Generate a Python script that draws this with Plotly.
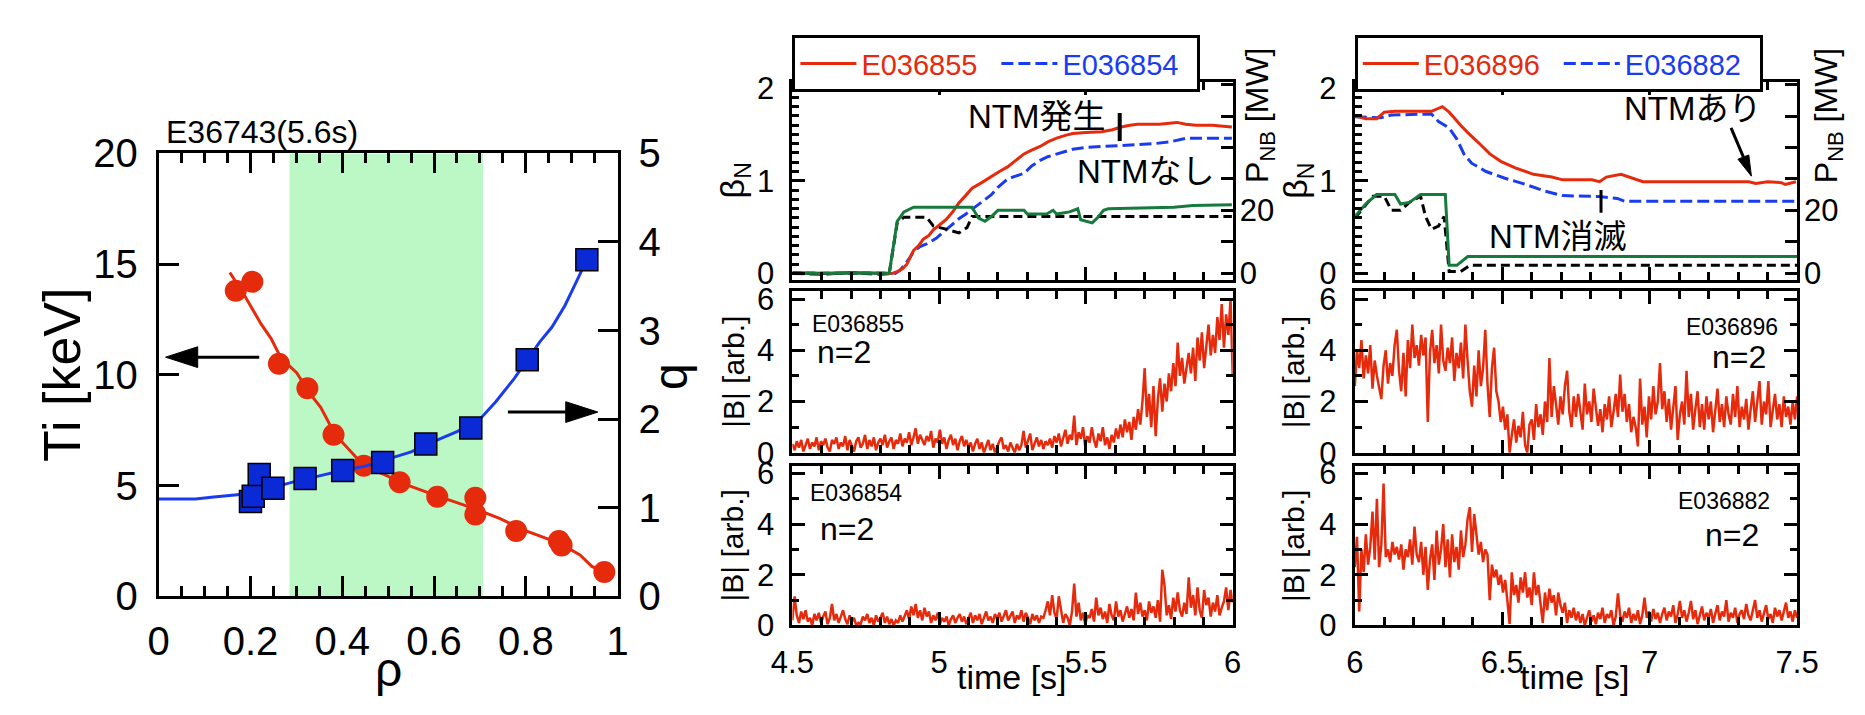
import numpy as np
import plotly.graph_objects as go

W, H = 1865, 715
FONT = "Liberation Sans, Arial, Noto Sans CJK JP, sans-serif"
RED = "#e62a0c"
BLUE = "#1a3cf0"
GREEN = "#167a3c"
SQ_BLUE = "#0a2ad6"
SHADE = "#bcf8c6"

# ---------------- profiles at 5.6 s ----------------
rho_ti = [0.168, 0.204, 0.262, 0.324, 0.381, 0.447, 0.525, 0.607, 0.690, 0.690, 0.779, 0.872, 0.878, 0.971]
ti = [13.8, 14.2, 10.5, 9.4, 7.3, 5.9, 5.15, 4.5, 4.45, 3.7, 2.95, 2.5, 2.3, 1.1]
rho_ti_fit = [0.155, 0.188, 0.223, 0.245, 0.266, 0.301, 0.327, 0.353, 0.384, 0.414, 0.449, 0.492,
              0.536, 0.605, 0.657, 0.691, 0.744, 0.796, 0.874, 0.918, 0.944, 0.970]
ti_fit = [14.62, 13.55, 12.3, 11.64, 10.78, 10.09, 9.22, 8.53, 7.32, 6.63, 5.85, 5.5,
          5.07, 4.55, 4.2, 3.94, 3.51, 2.99, 2.39, 1.87, 1.35, 1.09]
rho_q = [0.200, 0.206, 0.219, 0.249, 0.319, 0.401, 0.488, 0.582, 0.680, 0.803, 0.933]
q = [1.07, 1.13, 1.375, 1.22, 1.33, 1.42, 1.51, 1.72, 1.90, 2.67, 3.80]
rho_q_fit = [0.0, 0.08, 0.12, 0.17, 0.2, 0.25, 0.3, 0.35, 0.4, 0.45, 0.5, 0.55, 0.6, 0.65,
             0.7, 0.735, 0.775, 0.803, 0.83, 0.857, 0.885, 0.91, 0.933]
q_fit = [1.10, 1.10, 1.12, 1.14, 1.16, 1.23, 1.30, 1.36, 1.42, 1.47, 1.55, 1.63, 1.75, 1.86,
         2.0, 2.2, 2.46, 2.67, 2.87, 3.04, 3.28, 3.55, 3.80]
rho_window = [0.285, 0.707]

# ---------------- beta_N and NB power, shots E036855 / E036854 ----------------
t_b55 = [4.5, 4.6, 4.7, 4.8, 4.84, 4.857, 4.875, 4.89, 4.913, 4.93, 4.946, 4.965, 4.98, 5.0, 5.023,
         5.045, 5.067, 5.09, 5.112, 5.145, 5.178, 5.205, 5.233, 5.26, 5.289, 5.315, 5.344, 5.37,
         5.40, 5.43, 5.455, 5.5, 5.554, 5.59, 5.62, 5.65, 5.676, 5.75, 5.81, 5.84, 5.875, 5.93, 5.997]
b55 = [0.01, 0.0, 0.01, 0.0, 0.0, 0.02, 0.05, 0.10, 0.25, 0.30, 0.37, 0.41, 0.47, 0.52, 0.58,
       0.66, 0.76, 0.84, 0.92, 0.98, 1.05, 1.10, 1.15, 1.22, 1.29, 1.33, 1.37, 1.42,
       1.46, 1.49, 1.51, 1.52, 1.53, 1.55, 1.58, 1.60, 1.61, 1.61, 1.63, 1.61, 1.60, 1.60, 1.58]
t_b54 = [4.5, 4.6, 4.7, 4.8, 4.85, 4.865, 4.88, 4.9, 4.913, 4.935, 4.957, 4.99, 5.023, 5.045, 5.067,
         5.09, 5.12, 5.15, 5.178, 5.2, 5.233, 5.26, 5.289, 5.315, 5.344, 5.37, 5.40, 5.43, 5.455,
         5.5, 5.565, 5.62, 5.676, 5.73, 5.786, 5.842, 5.9, 5.997]
b54 = [0.0, -0.01, 0.01, -0.01, 0.0, 0.03, 0.085, 0.17, 0.24, 0.29, 0.32, 0.38, 0.47, 0.53, 0.59,
       0.64, 0.71, 0.78, 0.85, 0.93, 1.02, 1.05, 1.08, 1.16, 1.22, 1.26, 1.29, 1.32, 1.34,
       1.36, 1.37, 1.38, 1.39, 1.40, 1.42, 1.46, 1.46, 1.46]
t_p55 = [4.5, 4.83, 4.857, 4.88, 4.913, 5.112, 5.134, 5.156, 5.178, 5.2, 5.289, 5.3, 5.366, 5.388,
         5.4, 5.444, 5.472, 5.482, 5.521, 5.538, 5.56, 5.576, 5.8, 5.864, 5.997]
p55 = [0, 0, 16.5, 19.5, 21, 21, 17.5, 16.5, 18, 20, 20, 18.8, 18.8, 20,
       18.8, 19.5, 20.5, 17, 16, 17.5, 20, 20.5, 21, 21.5, 21.8]
t_p54 = [4.5, 4.83, 4.857, 4.88, 4.957, 4.98, 5.023, 5.067, 5.095, 5.112, 5.997]
p54 = [0, 0, 16, 17.8, 17.8, 15, 14, 12.8, 14.5, 18, 18]

# ---------------- beta_N and NB power, shots E036896 / E036882 ----------------
t_b96 = [6.0, 6.037, 6.074, 6.10, 6.136, 6.26, 6.297, 6.32, 6.359, 6.383, 6.42, 6.458, 6.495, 6.544,
         6.606, 6.668, 6.705, 6.804, 6.83, 6.853, 6.903, 6.94, 6.977, 7.336, 7.36, 7.40, 7.447,
         7.46, 7.496]
b96 = [1.70, 1.67, 1.67, 1.74, 1.75, 1.75, 1.80, 1.74, 1.60, 1.52, 1.41, 1.29, 1.21, 1.14,
       1.07, 1.04, 1.01, 1.01, 0.99, 1.04, 1.07, 1.03, 0.99, 0.99, 0.97, 0.99, 0.98,
       0.96, 0.99]
t_b82 = [6.0, 6.087, 6.124, 6.26, 6.284, 6.32, 6.346, 6.37, 6.396, 6.445, 6.507, 6.58, 6.643, 6.705,
         6.828, 6.89, 6.915, 7.496]
b82 = [1.69, 1.68, 1.71, 1.72, 1.64, 1.57, 1.45, 1.29, 1.19, 1.10, 1.03, 0.96, 0.89, 0.84,
       0.83, 0.81, 0.78, 0.78]
t_p96 = [6.0, 6.037, 6.074, 6.136, 6.155, 6.185, 6.223, 6.307, 6.32, 6.346, 6.383, 7.5]
p96 = [18, 22, 25, 25, 22, 22.5, 25, 25, 2.5, 2.5, 5.3, 5.3]
t_p82 = [6.0, 6.062, 6.1, 6.124, 6.155, 6.185, 6.223, 6.24, 6.26, 6.284, 6.303, 6.32, 6.359, 6.39, 7.5]
p82 = [17.5, 24.5, 24.5, 20, 20, 22.5, 24.5, 18, 14, 15, 18, 0.5, 0.5, 2.5, 2.5]

# ---------------- n=2 mode amplitude |B| ----------------
t_mid = np.linspace(4.5, 6.0, 201)
t_rgt = np.linspace(6.0, 7.5, 201)
B55 = [0.35, 0.1, 0.45, 0.2, 0.5, 0.05, 0.3, 0.55, 0.15, 0.4, 0.25, 0.6, 0.1, 0.45, 0.3, 0.55, 0.2, 0.05, 0.5, 0.35,
       0.6, 0.15, 0.4, 0.25, 0.65, 0.1, 0.5, 0.3, 0.05, 0.45, 0.6, 0.2, 0.35, 0.7, 0.15, 0.5, 0.25, 0.6, 0.1, 0.4,
       0.55, 0.3, 0.7, 0.2, 0.45, 0.6, 0.15, 0.5, 0.35, 0.75, 0.25, 0.55, 0.4, 0.8, 0.3, 0.6, 0.95, 0.35, 0.7, 0.5,
       0.3, 0.65, 0.45, 0.85, 0.2, 0.55, 0.4, 0.9, 0.35, 0.6, 0.15, 0.5, 0.7, 0.3, 0.55, 0.1, 0.45, 0.65, 0.25, 0.5,
       0.2, 0.4, 0.05, 0.35, 0.55, 0.15, 0.4, 0.0, 0.3, 0.5, 0.1, 0.35, 0.0, 0.25, 0.45, 0.6, 0.15, 0.3, 0.05, 0.4,
       0.2, 0.0, 0.35, 0.1, 0.3, 0.85, 0.2, 0.45, 0.75, 0.1, 0.4, 0.6, 0.25, 0.5, 0.15, 0.45, 0.3, 0.55, 0.2, 0.65,
       0.4, 0.75, 0.25, 0.6, 0.9, 0.35, 0.7, 0.5, 1.45, 0.3, 0.8, 0.55, 1.0, 0.25, 0.65, 0.4, 1.0, 0.5, 0.2, 0.75,
       0.45, 1.0, 0.3, 0.6, 0.15, 0.7, 0.4, 0.95, 0.55, 1.1, 0.6, 1.3, 0.8, 1.2, 0.5, 1.4, 0.9, 1.7, 1.1, 2.0,
       3.3, 1.4, 2.3, 1.0, 2.6, 0.65, 2.1, 2.9, 1.6, 2.7, 2.0, 3.1, 2.4, 3.5, 2.6, 4.3, 3.0, 3.7, 2.7, 3.3,
       3.9, 3.1, 4.1, 2.8, 4.5, 3.6, 4.7, 3.3, 4.2, 5.0, 3.8, 4.6, 3.9, 5.3, 4.4, 5.8, 4.1, 5.4, 4.6, 6.0,
       3.0]
B54 = [0.2, 1.15, 0.4, 0.1, 0.55, 0.25, 0.6, 0.15, 0.3, 0.0, 0.45, 0.2, 0.5, 0.1, 0.35, 0.55, 0.05, 0.3, 0.85, 0.2,
       0.45, 0.1, 0.35, 0.6, 0.25, 0.05, 0.4, 0.15, 0.3, 0.0, 0.1, 0.05, 0.35, 0.2, 0.45, 0.1, 0.3, 0.0, 0.4, 0.15,
       0.3, 0.5, 0.1, 0.35, 0.05, 0.25, 0.0, 0.2, 0.1, 0.4, 0.15, 0.35, 0.6, 0.25, 0.75, 0.4, 0.85, 0.3, 0.6, 0.2,
       0.7, 0.35, 0.55, 0.1, 0.4, 0.2, 0.5, 0.05, 0.3, 0.15, 0.35, 0.0, 0.25, 0.4, 0.1, 0.3, 0.45, 0.15, 0.35, 0.05,
       0.3, 0.5, 0.1, 0.4, 0.2, 0.45, 0.05, 0.3, 0.55, 0.2, 0.35, 0.1, 0.45, 0.25, 0.5, 0.15, 0.4, 0.6, 0.2, 0.35,
       0.55, 0.1, 0.4, 0.25, 0.6, 0.15, 0.5, 0.3, 0.05, 0.45, 0.2, 0.4, 0.1, 0.35, 0.3, 0.6, 0.95, 0.4, 1.2, 0.5,
       0.25, 1.15, 0.6, 0.1, 0.45, 0.3, 0.0, 0.55, 1.65, 0.35, 0.9, 0.2, 0.5, 0.05, 0.4, 0.3, 0.65, 0.15, 1.1, 0.4,
       0.7, 0.25, 0.55, 0.1, 0.85, 0.4, 0.2, 0.95, 0.35, 0.6, 0.15, 0.5, 0.75, 0.3, 0.65, 0.2, 1.3, 0.45, 0.9, 0.35,
       0.6, 0.2, 0.95, 0.5, 0.75, 0.3, 1.0, 0.15, 2.2, 1.6, 0.4, 0.8, 0.25, 1.1, 0.55, 1.3, 0.6, 0.35, 0.9, 0.45,
       1.9, 0.7, 1.2, 0.4, 1.5, 0.6, 0.3, 1.4, 0.8, 1.1, 0.35, 0.9, 0.55, 1.2, 0.4, 0.7, 0.95, 1.5, 0.6, 1.4,
       0.9]
B96 = [2.6, 4.0, 3.3, 4.4, 2.9, 3.8, 3.1, 4.2, 2.5, 3.6, 3.0, 2.5, 2.1, 3.4, 4.0, 2.7, 3.5, 3.0, 4.2, 4.8,
       3.2, 2.4, 3.9, 2.2, 4.4, 3.3, 5.0, 3.7, 4.2, 3.4, 4.6, 3.8, 4.5, 1.2, 3.9, 4.8, 3.5, 4.2, 3.1, 5.0,
       3.6, 3.2, 4.1, 3.5, 4.5, 2.8, 3.9, 3.3, 4.3, 2.9, 5.0, 3.6, 2.4, 1.8, 3.4, 2.2, 4.0, 2.6, 3.3, 4.8,
       2.7, 1.4, 3.3, 4.1, 2.4, 2.0, 1.2, 1.8, 0.9, 1.5, 0.0, 0.7, 1.3, 0.4, 1.05, 0.6, 1.6, 0.3, 0.0, 1.1,
       1.3, 0.5, 1.9, 1.0, 1.5, 0.7, 2.0, 1.2, 3.7, 1.4, 2.6, 1.9, 1.1, 2.2, 1.5, 2.6, 3.2, 1.6, 1.0, 2.2,
       1.4, 2.3, 1.7, 0.9, 2.7, 1.5, 2.0, 1.2, 2.5, 1.8, 1.05, 1.7, 0.8, 1.9, 1.3, 2.2, 1.0, 1.6, 2.3, 1.4,
       3.05, 1.6, 2.3, 1.2, 1.9, 0.8, 1.4, 1.0, 0.25, 2.9, 1.1, 1.8, 0.6, 2.2, 1.3, 2.6, 1.5, 2.0, 3.5, 1.7,
       2.4, 1.2, 2.1, 0.9, 1.8, 2.6, 0.5, 1.5, 2.0, 1.1, 3.2, 1.4, 2.3, 0.9, 1.7, 2.4, 1.0, 1.9, 0.9, 2.2,
       1.3, 2.0, 0.8, 1.6, 2.5, 1.2, 1.9, 1.0, 2.2, 1.5, 1.1, 2.3, 1.4, 2.6, 1.0, 1.8, 1.3, 2.1, 0.9, 1.7,
       2.4, 1.2, 1.9, 2.8, 1.1, 2.0, 1.5, 2.8, 1.0, 1.7, 2.3, 1.3, 1.9, 1.0, 2.2, 1.4, 1.8, 1.1, 2.0, 1.3,
       2.2]
B82 = [2.3, 3.5, 0.55, 3.0, 2.1, 3.6, 2.4, 3.1, 4.5, 2.6, 5.0, 2.3, 3.2, 5.6, 2.7, 3.0, 2.5, 3.3, 2.8, 3.1,
       2.6, 3.2, 2.2, 3.0, 2.7, 3.4, 2.4, 3.9, 2.8, 2.5, 3.3, 2.0, 3.1, 1.4, 2.6, 3.2, 1.8, 3.75, 2.4, 3.0,
       4.0, 2.3, 3.4, 1.9, 3.6, 2.5, 3.1, 2.2, 3.75, 2.7, 3.2, 4.2, 4.67, 2.9, 4.4, 3.5, 2.8, 3.3, 2.5, 3.0,
       2.8, 1.0, 2.4, 1.9, 2.2, 1.6, 2.0, 1.3, 1.8, 0.97, 0.06, 2.1, 1.2, 1.6, 0.9, 1.9, 1.3, 2.1, 1.1, 1.5,
       0.8, 2.1, 1.2, 1.6, 0.7, 0.1, 1.3, 0.6, 1.45, 0.9, 1.2, 0.4, 1.3, 0.8, 0.5, 0.9, 0.1, 0.6, 0.3, 0.7,
       0.2, 0.55, 0.1, 0.45, 0.0, 0.35, 0.6, 0.15, 0.4, 0.05, 0.5, 0.25, 0.7, 0.1, 0.45, 0.3, 0.6, 0.0, 0.35, 1.27,
       0.4, 0.15, 0.55, 0.3, 0.7, 0.1, 0.45, 0.2, 0.6, 0.05, 0.4, 1.1, 0.3, 0.55, 0.15, 0.65, 0.25, 0.5, 0.1, 0.45,
       0.7, 0.2, 0.55, 0.35, 0.8, 0.1, 0.45, 0.97, 0.3, 0.6, 0.15, 0.5, 0.97, 0.25, 0.6, 0.05, 0.4, 0.75, 0.2, 0.5,
       0.3, 0.65, 0.1, 0.45, 0.8, 0.2, 0.55, 0.35, 1.0, 0.15, 0.5, 0.3, 0.7, 0.1, 0.45, 0.6, 0.25, 0.85, 0.4, 0.2,
       0.55, 1.0, 0.3, 0.6, 0.15, 0.5, 0.8, 0.25, 0.45, 0.1, 0.7, 0.35, 0.6, 0.2, 0.5, 0.9, 0.3, 0.55, 0.15, 0.6,
       0.3]

# ---------------- layout helpers ----------------
def fx(p):
    return p / W


def fy(p):
    return 1 - p / H


LEFT_X = [fx(140), fx(610)]
LEFT_Y = [fy(612), fy(140)]
MID_X = [fx(789), fx(1240)]
RGT_X = [fx(1365), fx(1818)]
ROW1 = [fy(275), fy(64)]
ROW2 = [fy(459), fy(287)]
ROW3 = [fy(643), fy(473)]

BETA_RANGE = [-0.071, 2.065]
P_RANGE = [-2.2, 60.8]
B_RANGE = [0, 6.3]
TICK = 31


def minor_ticks(step, length):
    return dict(ticks="inside", dtick=step, tick0=0, ticklen=length, tickwidth=3, tickcolor="black")


def base_axis(size, **kw):
    d = dict(showline=True, linewidth=3, linecolor="black", ticks="inside", tickwidth=3,
             tickcolor="black", showgrid=False, zeroline=False,
             tickfont=dict(family=FONT, size=size, color="black"))
    d.update(kw)
    return d


def time_axis(domain, rng, anchor, labels):
    return base_axis(TICK, domain=domain, range=rng, anchor=anchor, mirror="ticks", dtick=0.5,
                     tick0=0, ticklen=13, minor=minor_ticks(0.1, 8),
                     showticklabels=labels, ticklabelstandoff=7)


def beta_axis(domain, anchor):
    return base_axis(TICK, domain=domain, range=BETA_RANGE, anchor=anchor, mirror=True,
                     tickvals=[0, 1, 2], ticklen=13, minor=minor_ticks(0.1, 7),
                     ticklabelstandoff=9)


def power_axis(over, anchor):
    return base_axis(TICK, overlaying=over, side="right", anchor=anchor, range=P_RANGE,
                     showline=False, tickvals=[0, 20], ticklen=12, minor=minor_ticks(10, 12),
                     ticklabelstandoff=6)


def amp_axis(domain, anchor):
    return base_axis(TICK, domain=domain, range=B_RANGE, anchor=anchor, mirror="ticks", dtick=2,
                     tick0=0, ticklen=13, minor=minor_ticks(1, 7), ticklabelstandoff=9)


def colored(text, color, size):
    return '<span style="color:%s;font-size:%dpx">%s</span>' % (color, size, text)


def with_sub(main, sub, size):
    return '%s<sub><span style="font-size:%dpx">%s</span></sub>' % (main, int(size * 0.7), sub)


fig = go.Figure()

# ---- left: Ti and q profiles ----
fig.add_trace(go.Scatter(x=rho_ti_fit, y=ti_fit, mode="lines", line=dict(color=RED, width=3),
                         xaxis="x", yaxis="y", showlegend=False))
fig.add_trace(go.Scatter(x=rho_ti, y=ti, mode="markers", marker=dict(color=RED, size=22),
                         xaxis="x", yaxis="y", showlegend=False))
fig.add_trace(go.Scatter(x=rho_q_fit, y=q_fit, mode="lines", line=dict(color=BLUE, width=3),
                         xaxis="x", yaxis="y2", showlegend=False))
fig.add_trace(go.Scatter(x=rho_q, y=q, mode="markers",
                         marker=dict(symbol="square", color=SQ_BLUE, size=22,
                                     line=dict(color="black", width=1.5)),
                         xaxis="x", yaxis="y2", showlegend=False))

LEG = 29

# ---- middle column ----
fig.add_trace(go.Scatter(x=t_p54, y=p54, mode="lines", line=dict(color="black", width=3, dash="9px,5px"),
                         xaxis="x2", yaxis="y4", showlegend=False))
fig.add_trace(go.Scatter(x=t_p55, y=p55, mode="lines", line=dict(color=GREEN, width=3),
                         xaxis="x2", yaxis="y4", showlegend=False))
fig.add_trace(go.Scatter(x=t_b54, y=b54, mode="lines", line=dict(color=BLUE, width=3, dash="12px,5px"),
                         xaxis="x2", yaxis="y3", legend="legend", name=colored("E036854", BLUE, LEG)))
fig.add_trace(go.Scatter(x=t_b55, y=b55, mode="lines", line=dict(color=RED, width=3),
                         xaxis="x2", yaxis="y3", legend="legend", legendrank=1,
                         name=colored("E036855", RED, LEG)))
fig.add_trace(go.Scatter(x=t_mid, y=B55, mode="lines", line=dict(color=RED, width=2.5),
                         xaxis="x3", yaxis="y5", showlegend=False))
fig.add_trace(go.Scatter(x=t_mid, y=B54, mode="lines", line=dict(color=RED, width=2.5),
                         xaxis="x4", yaxis="y6", showlegend=False))

# ---- right column ----
fig.add_trace(go.Scatter(x=t_p82, y=p82, mode="lines", line=dict(color="black", width=3, dash="9px,5px"),
                         xaxis="x5", yaxis="y8", showlegend=False))
fig.add_trace(go.Scatter(x=t_p96, y=p96, mode="lines", line=dict(color=GREEN, width=3),
                         xaxis="x5", yaxis="y8", showlegend=False))
fig.add_trace(go.Scatter(x=t_b82, y=b82, mode="lines", line=dict(color=BLUE, width=3, dash="12px,5px"),
                         xaxis="x5", yaxis="y7", legend="legend2", name=colored("E036882", BLUE, LEG)))
fig.add_trace(go.Scatter(x=t_b96, y=b96, mode="lines", line=dict(color=RED, width=3),
                         xaxis="x5", yaxis="y7", legend="legend2", legendrank=1,
                         name=colored("E036896", RED, LEG)))
fig.add_trace(go.Scatter(x=t_rgt, y=B96, mode="lines", line=dict(color=RED, width=2.5),
                         xaxis="x6", yaxis="y9", showlegend=False))
fig.add_trace(go.Scatter(x=t_rgt, y=B82, mode="lines", line=dict(color=RED, width=2.5),
                         xaxis="x7", yaxis="y10", showlegend=False))

legend_style = dict(orientation="h", xanchor="left", yanchor="top", bgcolor="white",
                    bordercolor="black", borderwidth=3, traceorder="normal", itemwidth=56,
                    font=dict(family=FONT, size=LEG), entrywidth=130, entrywidthmode="pixels")

fig.update_layout(
    width=W, height=H, margin=dict(l=0, r=0, t=0, b=0),
    paper_bgcolor="white", plot_bgcolor="rgba(0,0,0,0)",
    font=dict(family=FONT, color="black"),
    legend=dict(x=fx(789), y=fy(14), **legend_style),
    legend2=dict(x=fx(1365), y=fy(14), **legend_style),
    xaxis=base_axis(40, domain=LEFT_X, range=[0, 1], anchor="y", mirror="ticks", dtick=0.2,
                    ticklen=20, minor=minor_ticks(0.05, 10), ticklabelstandoff=8),
    yaxis=base_axis(40, domain=LEFT_Y, range=[0, 20], anchor="x", mirror=True, dtick=5,
                    ticklen=20, ticklabelstandoff=10),
    yaxis2=base_axis(40, overlaying="y", side="right", anchor="x", range=[0, 5], dtick=1,
                     ticklen=20, showline=False, ticklabelstandoff=20),
    xaxis2=time_axis(MID_X, [4.5, 6.0], "y3", False),
    yaxis3=beta_axis(ROW1, "x2"),
    yaxis4=power_axis("y3", "x2"),
    xaxis3=time_axis(MID_X, [4.5, 6.0], "y5", False),
    yaxis5=amp_axis(ROW2, "x3"),
    xaxis4=time_axis(MID_X, [4.5, 6.0], "y6", True),
    yaxis6=amp_axis(ROW3, "x4"),
    xaxis5=time_axis(RGT_X, [6.0, 7.5], "y7", False),
    yaxis7=beta_axis(ROW1, "x5"),
    yaxis8=power_axis("y7", "x5"),
    xaxis6=time_axis(RGT_X, [6.0, 7.5], "y9", False),
    yaxis9=amp_axis(ROW2, "x6"),
    xaxis7=time_axis(RGT_X, [6.0, 7.5], "y10", True),
    yaxis10=amp_axis(ROW3, "x7"),
)

# shaded rho window
fig.add_shape(type="rect", xref="x", yref="y", x0=rho_window[0], x1=rho_window[1], y0=0, y1=20,
              fillcolor=SHADE, line=dict(width=0), layer="below")

# arrows pointing to the relevant axes
fig.add_shape(type="line", xref="x", yref="y", x0=0.085, x1=0.219, y0=10.8, y1=10.8,
              line=dict(color="black", width=3))
fig.add_shape(type="path", xref="x", yref="y", path="M 0.015,10.8 L 0.085,11.27 L 0.085,10.33 Z",
              fillcolor="black", line=dict(color="black", width=1))
fig.add_shape(type="line", xref="x", yref="y2", x0=0.761, x1=0.887, y0=2.08, y1=2.08,
              line=dict(color="black", width=3))
fig.add_shape(type="path", xref="x", yref="y2", path="M 0.957,2.08 L 0.887,2.197 L 0.887,1.963 Z",
              fillcolor="black", line=dict(color="black", width=1))

# NTM onset / disappearance markers
fig.add_shape(type="line", xref="x2", yref="y3", x0=5.615, x1=5.615, y0=1.43, y1=1.73,
              line=dict(color="black", width=4))
fig.add_shape(type="line", xref="x5", yref="y7", x0=6.835, x1=6.835, y0=0.655, y1=0.90,
              line=dict(color="black", width=3))
fig.add_shape(type="line", xref="x5", yref="y7", x0=7.276, x1=7.318, y0=1.57, y1=1.256,
              line=dict(color="black", width=3))
fig.add_shape(type="path", xref="x5", yref="y7",
              path="M 7.345,1.05 L 7.3362,1.2783 L 7.2994,1.2331 Z",
              fillcolor="black", line=dict(color="black", width=1))


def note(text, x, y, size, xanchor="center", angle=0, color="black"):
    fig.add_annotation(text=text, x=fx(x), y=fy(y), xref="paper", yref="paper", showarrow=False,
                       xanchor=xanchor, yanchor="middle", textangle=angle,
                       font=dict(family=FONT, size=size, color=color))


def dnote(text, x, y, xref, yref, size):
    fig.add_annotation(text=text, x=x, y=y, xref=xref, yref=yref, showarrow=False,
                       xanchor="center", yanchor="middle", font=dict(family=FONT, size=size, color="black"))


# left panel labels
note("E36743(5.6s)", 145, 117, 32, xanchor="left")
note("Ti [keV]", 41, 376, 52, angle=-90)
note("ρ", 375, 690, 48)
note("q", 664, 378, 48, angle=-90)

# middle column labels
note(with_sub("β", "N", 34), 730, 169, 34, angle=-90)
note("|B| [arb.]", 728, 373, 30, angle=-90)
note("|B| [arb.]", 728, 558, 30, angle=-90)
note(with_sub("P", "NB", 32) + " [MW]", 1268, 100, 32, angle=-90)
note("time [s]", 1014, 698, 34)
note("E036855", 807, 322, 23, xanchor="left")
note("n=2", 812, 352, 32, xanchor="left")
note("E036854", 805, 502, 23, xanchor="left")
note("n=2", 815, 540, 32, xanchor="left")
dnote("NTM発生", 5.33, 1.695, "x2", "y3", 33)
dnote("NTMなし", 5.704, 1.10, "x2", "y3", 33)

# right column labels
note(with_sub("β", "N", 34), 1306, 169, 34, angle=-90)
note("|B| [arb.]", 1302, 373, 30, angle=-90)
note("|B| [arb.]", 1302, 558, 30, angle=-90)
note(with_sub("P", "NB", 32) + " [MW]", 1850, 100, 32, angle=-90)
note("time [s]", 1591, 698, 34)
note("E036896", 1800, 325, 23, xanchor="right")
note("n=2", 1758, 357, 32)
note("E036882", 1743, 510, 23)
note("n=2", 1751, 547, 32)
dnote("NTMあり", 7.144, 1.78, "x5", "y7", 33)
dnote("NTM消滅", 6.686, 0.40, "x5", "y7", 33)

fig.write_html("out.html")
